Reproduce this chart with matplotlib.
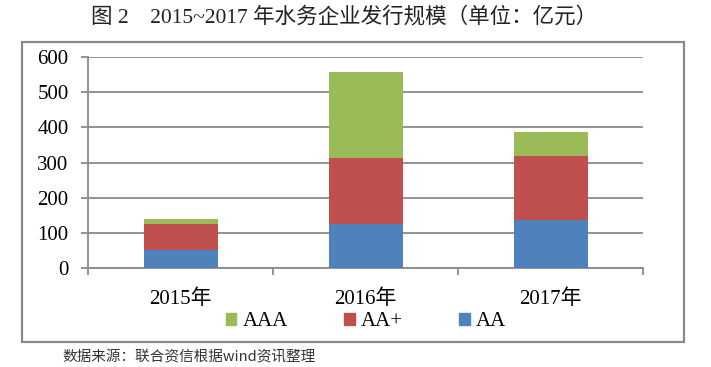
import matplotlib
matplotlib.use("Agg")
import matplotlib.pyplot as plt
import matplotlib.patches as mpatches
import numpy as np

categories = ["2015年", "2016年", "2017年"]
aa = [53, 125, 136]
aa_plus = [72, 187, 182]
aaa = [14, 246, 69]
series_names = ["AAA", "AA+", "AA"]
colors = {"AAA": "#9BBB59", "AA+": "#C0504D", "AA": "#4F81BD"}
yticks = [0, 100, 200, 300, 400, 500, 600]

W, H = 711, 367
fig = plt.figure(figsize=(W / 100, H / 100), dpi=100)
fam = ["Liberation Serif", "Noto Sans CJK SC"]

# outer frame
fig.patches.append(mpatches.Rectangle((21.5 / W, 1 - 342 / H), (684 - 21.5) / W, (342 - 42) / H,
                                      transform=fig.transFigure, fill=False,
                                      edgecolor="#8a8a8a", linewidth=1.6))

ax = fig.add_axes([88 / W, 1 - 268.3 / H, 555 / W, (268.3 - 56.7) / H])
x = np.arange(len(categories))
w = 0.4
ax.bar(x, aa, w, color=colors["AA"], zorder=3)
ax.bar(x, aa_plus, w, bottom=aa, color=colors["AA+"], zorder=3)
bottom3 = np.array(aa) + np.array(aa_plus)
ax.bar(x, aaa, w, bottom=bottom3, color=colors["AAA"], zorder=3)

ax.set_xlim(-0.5, 2.5)
ax.set_ylim(0, 600)
ax.set_yticks(yticks)
ax.set_yticklabels([str(v) for v in yticks], fontfamily=fam, fontsize=15)
ax.yaxis.grid(True, color="#8a8a8a", linewidth=1.3, zorder=0)
ax.set_axisbelow(True)
for s in ["top", "right"]:
    ax.spines[s].set_visible(False)
for s in ["left", "bottom"]:
    ax.spines[s].set_color("#8a8a8a")
    ax.spines[s].set_linewidth(1.3)
ax.tick_params(axis="y", length=5, width=1.3, color="#8a8a8a", pad=9, direction="out")
ax.set_xticks(x)
ax.set_xticklabels(categories, fontfamily=fam, fontsize=15)
ax.tick_params(axis="x", which="major", length=0, pad=15)
ax.set_xticks([-0.5, 0.5, 1.5, 2.5], minor=True)
ax.tick_params(axis="x", which="minor", length=5, width=1.3, color="#8a8a8a", direction="out")

handles = [mpatches.Patch(color=colors[n]) for n in series_names]
fig.legend(handles, series_names, loc="center", bbox_to_anchor=(366 / W, 1 - 322 / H), ncol=3,
           frameon=False, prop={"family": fam, "size": 15},
           handlelength=0.5, handleheight=0.5, handletextpad=0.3, columnspacing=2.7)

fig.text(344 / W, 1 - 17 / H, "图 2    2015~2017 年水务企业发行规模（单位：亿元）",
         ha="center", va="center", fontsize=15.5, fontfamily=fam, color="#222222")
fig.text(62 / W, 1 - 357 / H, "数据来源：联合资信根据wind资讯整理",
         ha="left", va="center", fontsize=10.5, fontfamily=["Noto Sans CJK SC", "Liberation Serif"],
         color="#333333")

fig.savefig("out.png", dpi=100, facecolor="white")
